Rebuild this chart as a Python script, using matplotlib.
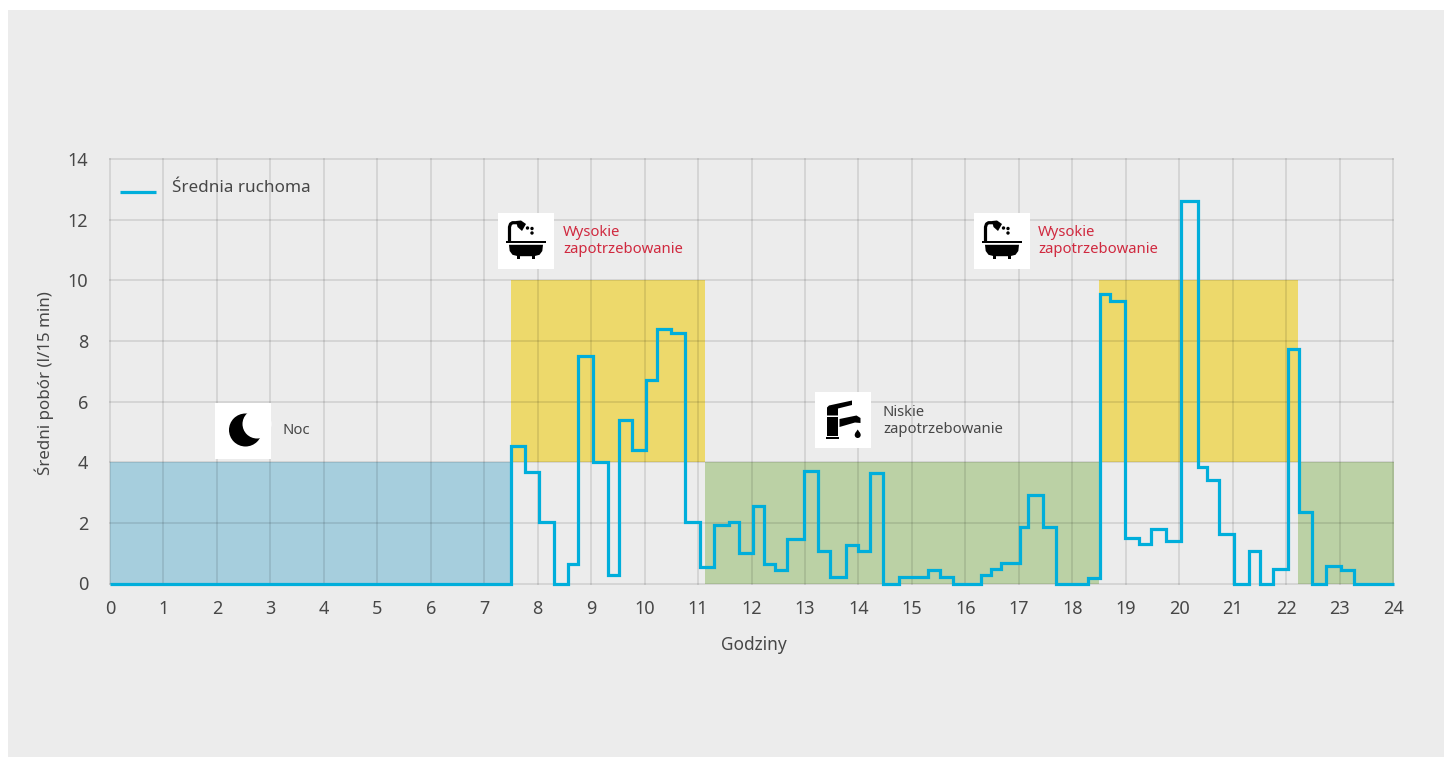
"""Sredni pobor wody w ciagu doby - step line over demand bands."""
import matplotlib
matplotlib.use("Agg")
import matplotlib.pyplot as plt
from matplotlib.patches import Circle, Polygon, Rectangle

plt.rcParams["font.family"] = ["Noto Sans", "DejaVu Sans"]

# step edges (hours) and the level held between consecutive edges
EDGES = [0, 7.50, 7.76, 8.03, 8.31, 8.57, 8.76, 9.03, 9.32, 9.53, 9.76, 10.03,
         10.24, 10.49, 10.76, 11.04, 11.30, 11.57, 11.76, 12.03, 12.24, 12.44,
         12.66, 12.99, 13.24, 13.47, 13.76, 14.00, 14.22, 14.46, 14.76, 15.31,
         15.53, 15.76, 16.30, 16.48, 16.67, 17.02, 17.18, 17.45, 17.69, 18.30,
         18.52, 18.71, 18.99, 19.25, 19.47, 19.76, 20.03, 20.35, 20.52, 20.75,
         21.03, 21.31, 21.52, 21.75, 22.03, 22.25, 22.48, 22.75, 23.02, 23.27,
         24.02]
LEVELS = [0, 4.54, 3.69, 2.02, 0, 0.63, 7.51, 4.02, 0.28, 5.40, 4.40,
          6.72, 8.39, 8.26, 2.02, 0.54, 1.92, 2.02, 1.00, 2.54, 0.63,
          0.45, 1.46, 3.71, 1.07, 0.22, 1.27, 1.07, 3.65, 0, 0.22,
          0.46, 0.22, 0, 0.28, 0.47, 0.68, 1.87, 2.92, 1.87, 0,
          0.17, 9.54, 9.32, 1.49, 1.30, 1.79, 1.40, 12.62, 3.84, 3.41,
          1.62, 0, 1.08, 0, 0.47, 7.74, 2.37, 0, 0.57, 0.43, 0]

# demand bands: start hour, end hour, low, high, colour
BANDS = [
    (0, 7.50, 0, 4, "#a6cedd"),
    (7.50, 11.13, 4, 10, "#edd96b"),
    (11.13, 18.50, 0, 4, "#bbd1a5"),
    (18.50, 22.23, 4, 10, "#edd96b"),
    (22.23, 24.02, 0, 4, "#bbd1a5"),
]

X_TICKS = list(range(25))
Y_TICKS = list(range(0, 15, 2))

W, H = 1451, 758
BG = "#ececec"
TEXT = "#474747"
RED = "#d0293f"
LINE = "#00aedb"


def draw_bath(ov, x0, y0):
    """Bath tub icon in a 56 px white box with its corner at x0, y0."""
    ov.add_patch(Rectangle((x0, y0), 56, 56, fc="white", ec="none"))
    ov.add_patch(Rectangle((x0 + 8, y0 + 28), 39.5, 2.4, fc="black", ec="none"))
    ov.add_patch(Polygon([(x0 + 11, y0 + 31.8), (x0 + 45, y0 + 31.8), (x0 + 44.3, y0 + 38),
                          (x0 + 41.5, y0 + 41.8), (x0 + 36, y0 + 43.2), (x0 + 20, y0 + 43.2),
                          (x0 + 14.5, y0 + 41.8), (x0 + 11.7, y0 + 38)],
                         fc="black", ec="none"))
    for fx in (18.5, 34):
        ov.add_patch(Rectangle((x0 + fx, y0 + 43), 3, 3.2, fc="black", ec="none"))
    ov.plot([x0 + 11.5, x0 + 11.5, x0 + 12.5, x0 + 14.5, x0 + 20],
            [y0 + 29, y0 + 14, y0 + 11, y0 + 9.7, y0 + 9.7],
            color="black", lw=2.3, solid_capstyle="butt")
    ov.add_patch(Polygon([(x0 + 18, y0 + 8), (x0 + 23, y0 + 7.5), (x0 + 28, y0 + 11),
                          (x0 + 24, y0 + 18), (x0 + 19.5, y0 + 14)],
                         fc="black", ec="none"))
    for dx, dy in ((29.5, 15), (34, 15.5), (34, 20)):
        ov.add_patch(Circle((x0 + dx, y0 + dy), 1.7, fc="black", ec="none"))


def draw_moon(ov, x0, y0):
    ov.add_patch(Rectangle((x0, y0), 56, 56, fc="white", ec="none"))
    ov.add_patch(Circle((x0 + 30.5, y0 + 27), 16.5, fc="black", ec="none"))
    ov.add_patch(Circle((x0 + 42, y0 + 21), 14.5, fc="white", ec="none"))


def draw_tap(ov, x0, y0):
    ov.add_patch(Rectangle((x0, y0), 56, 56, fc="white", ec="none"))
    ov.add_patch(Rectangle((x0 + 12, y0 + 25), 11, 19, fc="black", ec="none"))
    ov.add_patch(Rectangle((x0 + 11, y0 + 45), 13, 1.7, fc="black", ec="none"))
    ov.add_patch(Polygon([(x0 + 12, y0 + 15.5), (x0 + 14, y0 + 13.5), (x0 + 37, y0 + 8.5),
                          (x0 + 37, y0 + 13), (x0 + 23, y0 + 16.5), (x0 + 23, y0 + 23.5),
                          (x0 + 12, y0 + 23.5)], fc="black", ec="none"))
    ov.add_patch(Polygon([(x0 + 24.5, y0 + 27), (x0 + 41.5, y0 + 23.5), (x0 + 45.5, y0 + 26),
                          (x0 + 45.5, y0 + 31), (x0 + 40, y0 + 30.5), (x0 + 24.5, y0 + 35)],
                         fc="black", ec="none"))
    ov.add_patch(Circle((x0 + 42.7, y0 + 43), 3, fc="black", ec="none"))
    ov.add_patch(Polygon([(x0 + 40, y0 + 41.5), (x0 + 42.7, y0 + 37.5), (x0 + 45.4, y0 + 41.5)],
                         fc="black", ec="none"))


fig = plt.figure(figsize=(W / 100, H / 100), dpi=100, facecolor="white")
fig.add_artist(Rectangle((8 / W, 1 / H), 1436 / W, 747 / H, transform=fig.transFigure,
                         fc=BG, ec="none", zorder=-1))

ax = fig.add_axes([110 / W, (H - 583.5) / H, 1283 / W, 424.5 / H], facecolor="none")
for start, end, low, high, colour in BANDS:
    ax.add_patch(Rectangle((start, low), end - start, high - low, fc=colour, ec="none",
                           zorder=1, clip_on=False))
ax.grid(True, color="black", alpha=0.1, lw=1.3, zorder=2, clip_on=False)
ax.set_axisbelow(False)
ax.stairs(LEVELS, EDGES, baseline=None, color=LINE, lw=2.3, zorder=3, clip_on=False,
          joinstyle="miter")

ax.set_xlim(0, 24)
ax.set_ylim(0, 14)
ax.set_xticks(X_TICKS)
ax.set_yticks(Y_TICKS)
ax.tick_params(length=0, labelsize=13, labelcolor=TEXT)
ax.tick_params(axis="x", pad=12)
ax.tick_params(axis="y", pad=15.5)
for side in ax.spines.values():
    side.set_visible(False)

# icons and annotations are placed in pixel coordinates of the reference
ov = fig.add_axes([0, 0, 1, 1], facecolor="none", zorder=5)
ov.set_xlim(0, W)
ov.set_ylim(H, 0)
ov.axis("off")

draw_moon(ov, 215, 403)
draw_bath(ov, 498, 213)
draw_bath(ov, 974, 213)
draw_tap(ov, 815, 392)

ov.plot([120, 156], [192, 192], color=LINE, lw=2.3, solid_capstyle="butt")
ov.text(172, 188.5, "Średnia ruchoma", color=TEXT, fontsize=12.3, fontweight="medium",
        va="center")
ov.text(283, 430.5, "Noc", color=TEXT, fontsize=10.7, va="center")
ov.text(563, 241, "Wysokie\nzapotrzebowanie", color=RED, fontsize=10.7, va="center",
        linespacing=1.2)
ov.text(1038, 241, "Wysokie\nzapotrzebowanie", color=RED, fontsize=10.7, va="center",
        linespacing=1.2)
ov.text(883, 421, "Niskie\nzapotrzebowanie", color=TEXT, fontsize=10.7, va="center",
        linespacing=1.2)
ov.text(44, 383, "Średni pobór (l/15 min)", color=TEXT, fontsize=12.2, rotation=90,
        ha="center", va="center")
ov.text(754, 645, "Godziny", color=TEXT, fontsize=12.4, ha="center", va="center")

fig.savefig("out.png", dpi=100)
